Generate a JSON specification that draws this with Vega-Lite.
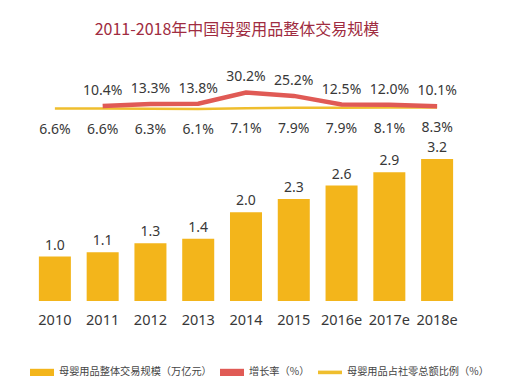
{
  "$schema": "https://vega.github.io/schema/vega-lite/v6.json",
  "width": 430,
  "height": 241,
  "autosize": {"type": "none"},
  "padding": {"left": 31, "right": 48, "top": 60, "bottom": 86},
  "background": "white",
  "title": {
    "text": "2011-2018年中国母婴用品整体交易规模",
    "font": "Noto Sans CJK SC",
    "fontSize": 16,
    "fontWeight": "normal",
    "color": "#a02c41",
    "anchor": "middle",
    "dx": -9,
    "offset": 22
  },
  "config": {
    "view": {"stroke": null},
    "font": "Noto Sans",
    "text": {"font": "Noto Sans", "fontSize": 14, "color": "#383838"}
  },
  "data": {
    "values": [
      {"year": "2010", "scale": 1.0, "growth": null, "ratio": 6.6},
      {"year": "2011", "scale": 1.1, "growth": 10.4, "ratio": 6.6},
      {"year": "2012", "scale": 1.3, "growth": 13.3, "ratio": 6.3},
      {"year": "2013", "scale": 1.4, "growth": 13.8, "ratio": 6.1},
      {"year": "2014", "scale": 2.0, "growth": 30.2, "ratio": 7.1},
      {"year": "2015", "scale": 2.3, "growth": 25.2, "ratio": 7.9},
      {"year": "2016e", "scale": 2.6, "growth": 12.5, "ratio": 7.9},
      {"year": "2017e", "scale": 2.9, "growth": 12.0, "ratio": 8.1},
      {"year": "2018e", "scale": 3.2, "growth": 10.1, "ratio": 8.3}
    ]
  },
  "encoding": {
    "x": {
      "field": "year",
      "type": "ordinal",
      "sort": null,
      "scale": {"paddingInner": 0.33, "paddingOuter": 0.165},
      "axis": {
        "title": null,
        "domain": false,
        "ticks": false,
        "labelAngle": 0,
        "labelPadding": 12,
        "labelFontSize": 14.5,
        "labelColor": "#383838",
        "labelFont": "Noto Sans"
      }
    }
  },
  "layer": [
    {
      "mark": {"type": "bar"},
      "encoding": {
        "y": {"field": "scale", "type": "quantitative", "scale": {"domain": [0, 5.43], "nice": false, "zero": true}, "axis": null},
        "color": {
          "datum": "母婴用品整体交易规模（万亿元）",
          "scale": {
            "domain": ["母婴用品整体交易规模（万亿元）", "增长率（%）", "母婴用品占社零总额比例（%）"],
            "range": ["#f3b51b", "#e05a55", "#efbe2e"]
          },
          "legend": {
            "title": null,
            "orient": "none",
            "legendX": -1,
            "legendY": 300,
            "direction": "horizontal",
            "labelFont": "Noto Sans CJK SC",
            "labelFontSize": 10.2,
            "labelColor": "#444444",
            "labelOffset": 5,
            "columnPadding": 8,
            "symbolType": "M-1,-0.3H1V0.3H-1Z",
            "symbolSize": 576,
            "symbolStrokeWidth": 0,
            "encode": {
              "symbols": {
                "update": {
                  "shape": {"signal": "datum.value === '母婴用品占社零总额比例（%）' ? 'M-1,-0.15H1V0.15H-1Z' : 'M-1,-0.3H1V0.3H-1Z'"},
                  "fill": {"scale": "color", "field": "value"},
                  "strokeWidth": {"value": 0}
                }
              }
            }
          }
        }
      }
    },
    {
      "mark": {"type": "text", "baseline": "middle", "dy": -11},
      "encoding": {
        "y": {"field": "scale", "type": "quantitative", "scale": {"domain": [0, 5.43], "nice": false, "zero": true}, "axis": null},
        "text": {"field": "scale", "type": "quantitative", "format": ".1f"}
      }
    },
    {
      "mark": {"type": "line", "strokeWidth": 2.5},
      "encoding": {
        "y": {"field": "ratio", "type": "quantitative", "scale": {"domain": [-276.5, 78], "nice": false, "zero": false}, "axis": null},
        "color": {"datum": "母婴用品占社零总额比例（%）"}
      }
    },
    {
      "transform": [{"filter": "datum.growth != null"}],
      "mark": {"type": "line", "strokeWidth": 4.5},
      "encoding": {
        "y": {"field": "growth", "type": "quantitative", "scale": {"domain": [-276.5, 78], "nice": false, "zero": false}, "axis": null},
        "color": {"datum": "增长率（%）"}
      }
    },
    {
      "transform": [
        {"filter": "datum.growth != null"},
        {"calculate": "format(datum.growth, '.1f') + '%'", "as": "growthLabel"}
      ],
      "mark": {"type": "text", "baseline": "middle", "dy": -15},
      "encoding": {
        "y": {"field": "growth", "type": "quantitative", "scale": {"domain": [-276.5, 78], "nice": false, "zero": false}, "axis": null},
        "text": {"field": "growthLabel", "type": "nominal"}
      }
    },
    {
      "transform": [
        {"calculate": "format(datum.ratio, '.1f') + '%'", "as": "ratioLabel"}
      ],
      "mark": {"type": "text", "baseline": "middle", "dy": 21},
      "encoding": {
        "y": {"field": "ratio", "type": "quantitative", "scale": {"domain": [-276.5, 78], "nice": false, "zero": false}, "axis": null},
        "text": {"field": "ratioLabel", "type": "nominal"}
      }
    }
  ],
  "resolve": {"scale": {"y": "independent"}}
}
